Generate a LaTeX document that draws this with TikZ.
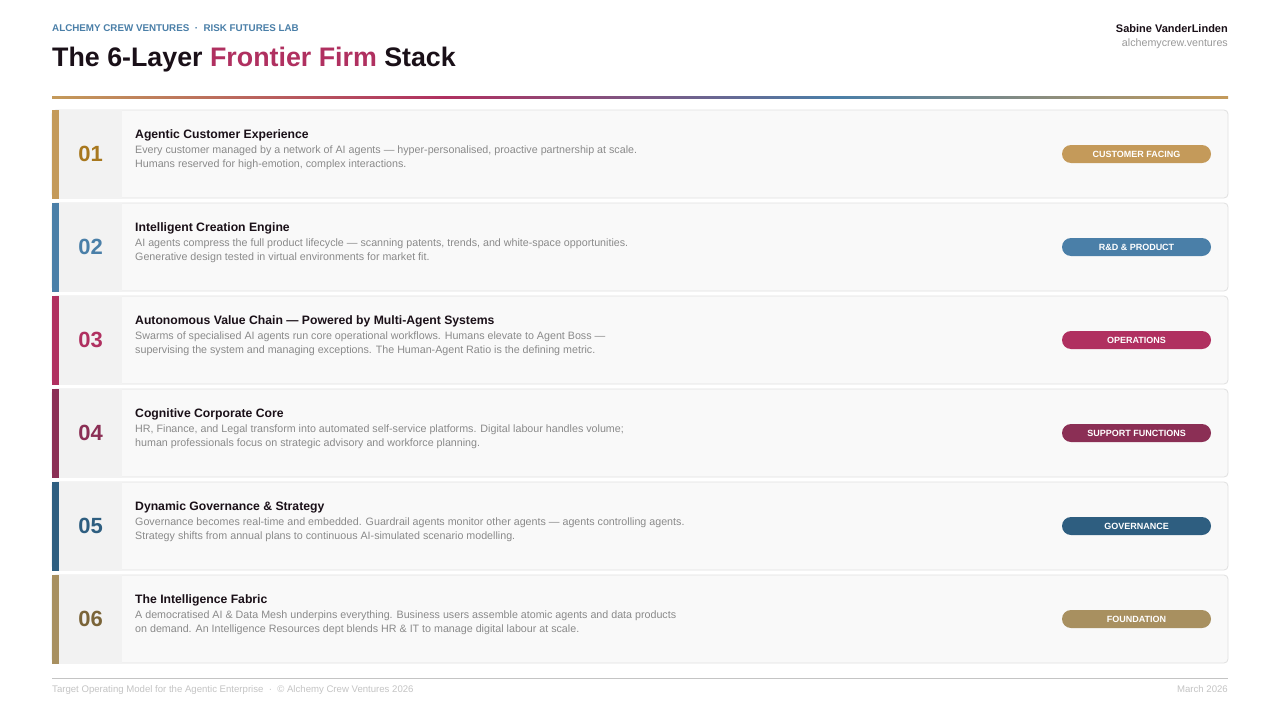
\documentclass[tikz,border=0pt]{standalone}
\usepackage{fontspec}
\setmainfont{Liberation Sans}
\usetikzlibrary{positioning}

\definecolor{ink}{HTML}{1A1018}
\definecolor{crimson}{HTML}{B03060}
\definecolor{steel}{HTML}{4A7FA8}
\definecolor{gold}{HTML}{C49A5A}
\definecolor{goldtxt}{HTML}{A8781E}
\definecolor{plum}{HTML}{8B2F55}
\definecolor{navy}{HTML}{2E5E80}
\definecolor{sand}{HTML}{A89060}
\definecolor{sandtxt}{HTML}{7A6438}
\definecolor{cardbg}{HTML}{F9F9F9}
\definecolor{cardline}{HTML}{E0E0E0}
\definecolor{numbg}{HTML}{F2F2F2}
\definecolor{descgrey}{HTML}{8A8A8A}
\definecolor{softgrey}{HTML}{999999}
\definecolor{footgrey}{HTML}{C4C4C4}

\pgfdeclarehorizontalshading{rulefade}{100bp}{color(0bp)=(gold); color(25bp)=(gold);
  color(41.67bp)=(crimson); color(58.33bp)=(steel); color(75bp)=(gold); color(100bp)=(gold)}

\tikzset{
  card/.style={draw=cardline, fill=cardbg, rounded corners=4pt, line width=0.8pt,
    minimum width=1176pt, minimum height=88pt, inner sep=0pt},
  bar/.style={fill=#1, minimum width=7pt, minimum height=89pt, inner sep=0pt, anchor=west},
  numbox/.style={fill=numbg, text=#1, minimum width=63pt, minimum height=89pt, inner sep=0pt,
    anchor=west, font=\fontsize{22}{24}\selectfont\bfseries},
  layerhead/.style={anchor=base west, inner sep=0pt, text=ink, font=\fontsize{12.2}{14}\selectfont\bfseries},
  layerdesc/.style={anchor=north west, inner sep=0pt, align=left, text=descgrey,
    font=\fontsize{10.7}{14}\selectfont},
  tag/.style={fill=#1, text=white, rounded corners=9pt, minimum width=149pt, minimum height=18pt,
    inner sep=0pt, text height=6.4pt, text depth=0pt, font=\fontsize{9}{10}\selectfont\bfseries}
}

\begin{document}
\begin{tikzpicture}[x=1pt, y=-1pt]
  \useasboundingbox[fill=white] (0,0) rectangle (1280,720);
  \path (52,28) node[anchor=west, inner sep=0pt, text=steel, font=\fontsize{9.8}{12}\selectfont\bfseries] (kicker)
        {ALCHEMY CREW VENTURES \ · \ RISK FUTURES LAB};
  \path (52,66) node[anchor=base west, inner sep=0pt, text=ink, font=\fontsize{26.8}{32}\selectfont\bfseries] (title)
        {The 6-Layer \textcolor{crimson}{Frontier Firm} Stack};
  \path (1228,32) node[anchor=base east, inner sep=0pt, text=ink, font=\fontsize{11}{12}\selectfont\bfseries] (author)
        {Sabine VanderLinden};
  \path (1228,46) node[anchor=base east, inner sep=0pt, text=softgrey, font=\fontsize{10.7}{12}\selectfont] (site)
        {alchemycrew.ventures};
  \path[shading=rulefade] (52,96) rectangle (1228,98);

  \begin{scope}
  \path (640,154) node[card] (card1) {};
  \path (52,154)  node[bar=gold] (bar1) {};
  \path (59,154)  node[numbox=goldtxt] (num1) {01};
  \path (135,138) node[layerhead] (head1) {Agentic Customer Experience};
  \path (135,145.5) node[layerdesc] (desc1) {Every customer managed by a network of AI agents — hyper-personalised, proactive partnership at scale.\\
        Humans reserved for high-emotion, complex interactions.};
  \path (1136.5,154) node[tag=gold] (tag1) {CUSTOMER FACING};

  \path (640,247) node[card] (card2) {};
  \path (52,247)  node[bar=steel] (bar2) {};
  \path (59,247)  node[numbox=steel] (num2) {02};
  \path (135,231) node[layerhead] (head2) {Intelligent Creation Engine};
  \path (135,238.5) node[layerdesc] (desc2) {AI agents compress the full product lifecycle — scanning patents, trends, and white-space opportunities.\\
        Generative design tested in virtual environments for market fit.};
  \path (1136.5,247) node[tag=steel] (tag2) {R\&D \& PRODUCT};

  \path (640,340) node[card] (card3) {};
  \path (52,340)  node[bar=crimson] (bar3) {};
  \path (59,340)  node[numbox=crimson] (num3) {03};
  \path (135,324) node[layerhead] (head3) {Autonomous Value Chain — Powered by Multi-Agent Systems};
  \path (135,331.5) node[layerdesc] (desc3) {Swarms of specialised AI agents run core operational workflows. Humans elevate to Agent Boss —\\
        supervising the system and managing exceptions. The Human-Agent Ratio is the defining metric.};
  \path (1136.5,340) node[tag=crimson] (tag3) {OPERATIONS};

  \path (640,433) node[card] (card4) {};
  \path (52,433)  node[bar=plum] (bar4) {};
  \path (59,433)  node[numbox=plum] (num4) {04};
  \path (135,417) node[layerhead] (head4) {Cognitive Corporate Core};
  \path (135,424.5) node[layerdesc] (desc4) {HR, Finance, and Legal transform into automated self-service platforms. Digital labour handles volume;\\
        human professionals focus on strategic advisory and workforce planning.};
  \path (1136.5,433) node[tag=plum] (tag4) {SUPPORT FUNCTIONS};

  \path (640,526) node[card] (card5) {};
  \path (52,526)  node[bar=navy] (bar5) {};
  \path (59,526)  node[numbox=navy] (num5) {05};
  \path (135,510) node[layerhead] (head5) {Dynamic Governance \& Strategy};
  \path (135,517.5) node[layerdesc] (desc5) {Governance becomes real-time and embedded. Guardrail agents monitor other agents — agents controlling agents.\\
        Strategy shifts from annual plans to continuous AI-simulated scenario modelling.};
  \path (1136.5,526) node[tag=navy] (tag5) {GOVERNANCE};

  \path (640,619) node[card] (card6) {};
  \path (52,619)  node[bar=sand] (bar6) {};
  \path (59,619)  node[numbox=sandtxt] (num6) {06};
  \path (135,603) node[layerhead] (head6) {The Intelligence Fabric};
  \path (135,610.5) node[layerdesc] (desc6) {A democratised AI \& Data Mesh underpins everything. Business users assemble atomic agents and data products\\
        on demand. An Intelligence Resources dept blends HR \& IT to manage digital labour at scale.};
  \path (1136.5,619) node[tag=sand] (tag6) {FOUNDATION};
  \end{scope}

  \path (52,678) coordinate (footl) (1228,678) coordinate (footr);
  \draw[footgrey, line width=1pt] (footl) -- (footr);
  \path (52,692) node[anchor=base west, inner sep=0pt, text=footgrey, font=\fontsize{9.6}{10}\selectfont] (footnote)
        {Target Operating Model for the Agentic Enterprise \ · \ © Alchemy Crew Ventures 2026};
  \path (1228,692) node[anchor=base east, inner sep=0pt, text=footgrey, font=\fontsize{9.6}{10}\selectfont] (date)
        {March 2026};
\end{tikzpicture}
\end{document}
